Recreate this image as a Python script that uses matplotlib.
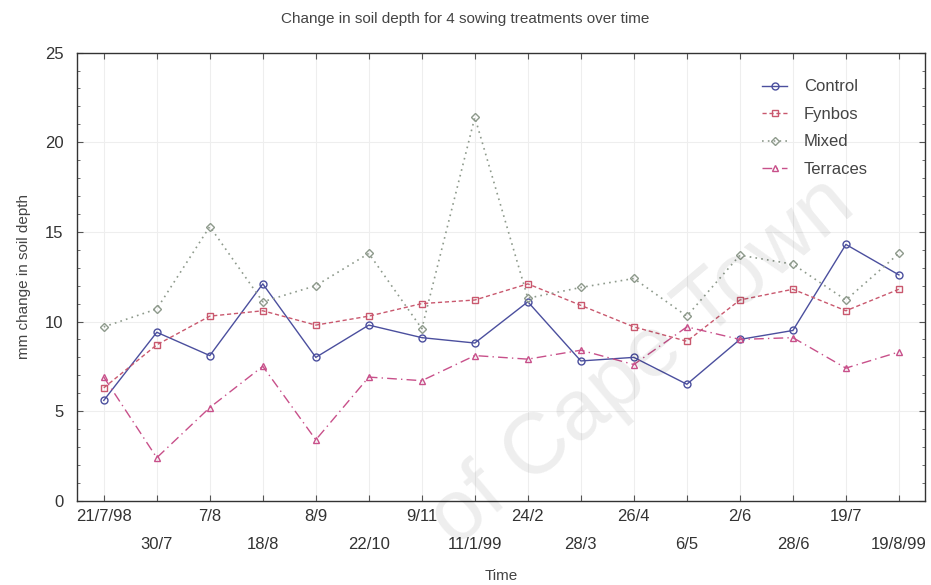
import matplotlib
matplotlib.use('Agg')
import matplotlib.pyplot as plt
import numpy as np
from matplotlib.ticker import MultipleLocator

plt.rcParams['font.family'] = ['Liberation Sans', 'DejaVu Sans']

# sampling dates
dates = ['21/7/98', '30/7', '7/8', '18/8', '8/9', '22/10', '9/11', '11/1/99',
         '24/2', '28/3', '26/4', '6/5', '2/6', '28/6', '19/7', '19/8/99']

# mm change in soil depth per treatment
control = [5.6, 9.4, 8.1, 12.1, 8.0, 9.8, 9.1, 8.8, 11.1, 7.8, 8.0, 6.5, 9.0, 9.5, 14.3, 12.6]
fynbos = [6.3, 8.7, 10.3, 10.6, 9.8, 10.3, 11.0, 11.2, 12.1, 10.9, 9.7, 8.9, 11.2, 11.8, 10.6, 11.8]
mixed = [9.7, 10.7, 15.3, 11.1, 12.0, 13.8, 9.6, 21.4, 11.3, 11.9, 12.4, 10.3, 13.7, 13.2, 11.2, 13.8]
terraces = [6.9, 2.4, 5.2, 7.5, 3.4, 6.9, 6.7, 8.1, 7.9, 8.4, 7.6, 9.7, 9.0, 9.1, 7.4, 8.3]

x = np.arange(len(dates))

fig = plt.figure(figsize=(9.31, 5.85), dpi=100)
ax = fig.add_axes([0.083, 0.144, 0.911, 0.766])

ax.plot(x, control, color='#4b4f9e', linestyle='-', linewidth=1.0,
        marker='o', markersize=5, markerfacecolor='none', label='Control')
ax.plot(x, fynbos, color='#c9586e', linestyle=(0, (3, 2)), linewidth=1.0,
        marker='s', markersize=5, markerfacecolor='none', label='Fynbos')
ax.plot(x, mixed, color='#8e9a8c', linestyle=(0, (1, 2.5)), linewidth=1.2,
        marker='D', markersize=4.5, markerfacecolor='none', label='Mixed')
ax.plot(x, terraces, color='#c8508a', linestyle=(0, (7, 3, 1, 3)), linewidth=1.0,
        marker='^', markersize=5, markerfacecolor='none', label='Terraces')

ax.set_xlim(-0.5, 15.5)
ax.set_ylim(0, 25)
ax.yaxis.set_major_locator(MultipleLocator(5))
ax.yaxis.set_minor_locator(MultipleLocator(1))

ax.set_xticks(x)
ax.set_xticklabels(dates, fontsize=12, color='#333333')
ax.tick_params(axis='both', which='both', direction='in', top=True, right=True,
               color='#555555')
ax.tick_params(axis='both', which='major', length=4)
ax.tick_params(axis='both', which='minor', length=2)
ax.tick_params(axis='y', labelsize=12, labelcolor='#333333', pad=10)

# stagger the date labels over two rows
for i, tick in enumerate(ax.xaxis.get_major_ticks()):
    tick.set_pad(6 if i % 2 == 0 else 26)

ax.grid(True, which='major', color='#eeeeee', linewidth=0.8)
for s in ax.spines.values():
    s.set_color('#333333')
    s.set_linewidth(1.0)

ax.set_xlabel('Time', fontsize=11, color='#444444', labelpad=12)
ax.set_ylabel('mm change in soil depth', fontsize=11, color='#444444', labelpad=10)
fig.suptitle('Change in soil depth for 4 sowing treatments over time',
             fontsize=11, color='#444444', y=0.98)

ax.legend(loc='upper left', frameon=False, fontsize=12, handlelength=1.5,
          handletextpad=1.0, labelspacing=0.75, labelcolor='#444444',
          borderaxespad=0.0, bbox_to_anchor=(0.8, 0.955))

# faint watermark
fig.text(0.69, 0.38, 'of Cape Town', fontsize=62, color='#000000', alpha=0.07,
         rotation=40, ha='center', va='center')

fig.savefig('out.png', dpi=100)
